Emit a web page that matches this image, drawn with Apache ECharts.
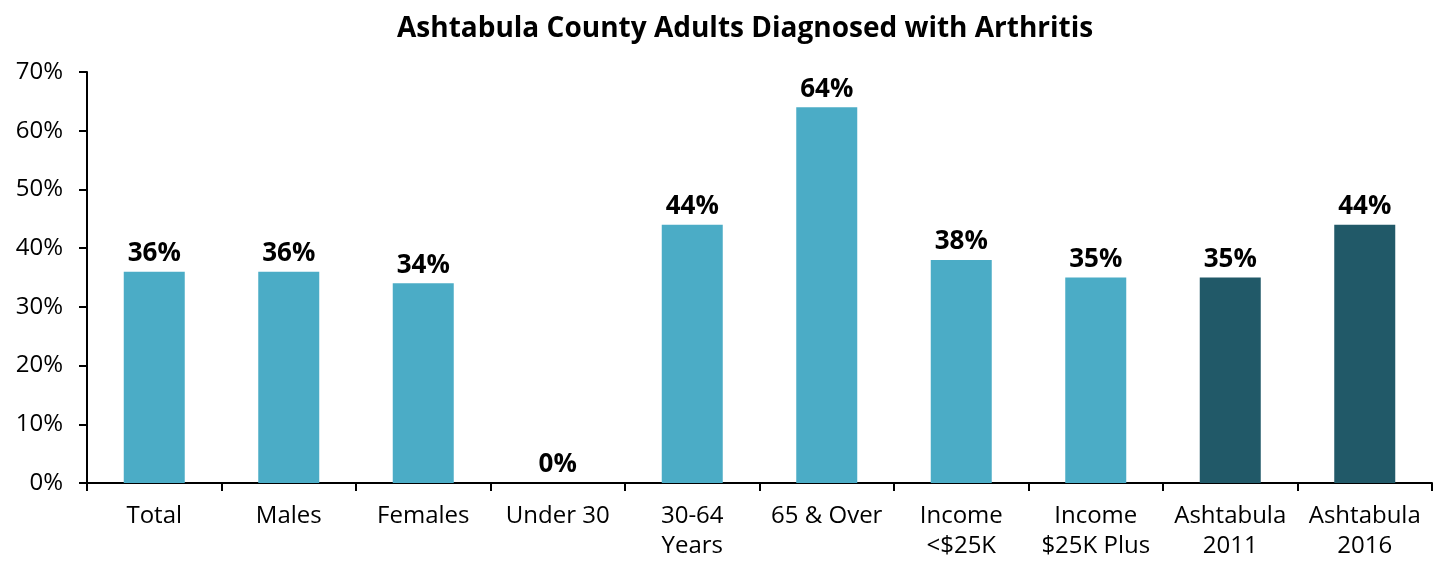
<!DOCTYPE html>
<html>
<head>
<meta charset="utf-8">
<script src="https://cdn.jsdelivr.net/npm/echarts@6/dist/echarts.min.js"></script>
<style>
html, body { margin: 0; padding: 0; background: #fff; }
#chart { width: 1447px; height: 561px; }
</style>
</head>
<body>
<div id="chart"></div>
<script>
// data
const categories = ['Total', 'Males', 'Females', 'Under 30', '30-64\nYears', '65 & Over',
	'Income\n<$25K', 'Income\n$25K Plus', 'Ashtabula\n2011', 'Ashtabula\n2016']
const values = [36, 36, 34, 0, 44, 64, 38, 35, 35, 44]
const barColors = ['#4BACC6', '#4BACC6', '#4BACC6', '#4BACC6', '#4BACC6', '#4BACC6',
	'#4BACC6', '#4BACC6', '#215968', '#215968']
const yTicks = [0, 10, 20, 30, 40, 50, 60, 70]

const font = '"Open Sans", "Noto Sans", sans-serif'
const chart = echarts.init(document.getElementById('chart'))

chart.setOption({
	animation: false,
	title: {
		text: 'Ashtabula County Adults Diagnosed with Arthritis',
		left: 392,
		top: 10,
		textStyle: { fontFamily: font, fontSize: 28, fontWeight: 'bold', color: '#000' },
	},
	grid: { left: 87, right: 15, top: 72, bottom: 78 },
	xAxis: {
		type: 'category',
		data: categories,
		axisLine: { lineStyle: { color: '#000', width: 2 } },
		axisTick: { show: true, length: 8, lineStyle: { color: '#000', width: 2 } },
		axisLabel: { fontFamily: font, fontSize: 24, color: '#000', lineHeight: 30, margin: 18, interval: 0 },
	},
	yAxis: {
		type: 'value',
		min: yTicks[0],
		max: yTicks[yTicks.length - 1],
		interval: 10,
		axisLine: { show: true, lineStyle: { color: '#000', width: 2 } },
		axisTick: { show: true, length: 8, lineStyle: { color: '#000', width: 2 } },
		splitLine: { show: false },
		axisLabel: { fontFamily: font, fontSize: 24, color: '#000', margin: 24, formatter: '{value}%' },
	},
	series: [{
		type: 'bar',
		data: values.map((v, i) => ({ value: v, itemStyle: { color: barColors[i] } })),
		barWidth: 61,
		label: {
			show: true,
			position: 'top',
			distance: 5,
			formatter: '{c}%',
			fontFamily: font,
			fontSize: 26,
			fontWeight: 'bold',
			color: '#000',
		},
	}],
})
</script>
</body>
</html>
